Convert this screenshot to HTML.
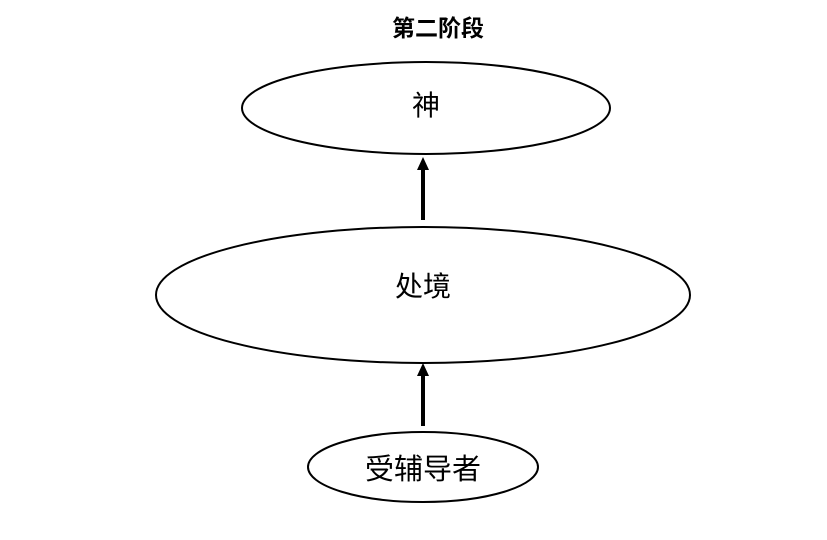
<!DOCTYPE html>
<html><head><meta charset="utf-8"><style>
html,body{margin:0;padding:0;background:#fff;}
svg{display:block;}
text{font-family:"Liberation Sans","Noto Sans CJK SC",sans-serif;}
</style></head><body>
<svg width="827" height="540" viewBox="0 0 827 540" xmlns="http://www.w3.org/2000/svg">
<rect width="827" height="540" fill="#fff"/>
<text x="438" y="36" font-size="23" font-weight="bold" text-anchor="middle" fill="#000">第二阶段</text>
<ellipse cx="426" cy="108" rx="184" ry="46" fill="none" stroke="#000" stroke-width="2"/>
<text x="426" y="115" font-size="28" text-anchor="middle" fill="#000">神</text>
<ellipse cx="423" cy="295" rx="267" ry="68" fill="none" stroke="#000" stroke-width="2"/>
<text x="423" y="296" font-size="28" text-anchor="middle" fill="#000">处境</text>
<ellipse cx="423" cy="467" rx="115" ry="35" fill="none" stroke="#000" stroke-width="2"/>
<text x="423" y="479" font-size="29" text-anchor="middle" fill="#000">受辅导者</text>
<line x1="423" y1="220" x2="423" y2="168" stroke="#000" stroke-width="4"/>
<polygon points="423,157 417,170 429,170" fill="#000"/>
<line x1="423" y1="426" x2="423" y2="374" stroke="#000" stroke-width="4"/>
<polygon points="423,363 417,376 429,376" fill="#000"/>
</svg>
</body></html>
